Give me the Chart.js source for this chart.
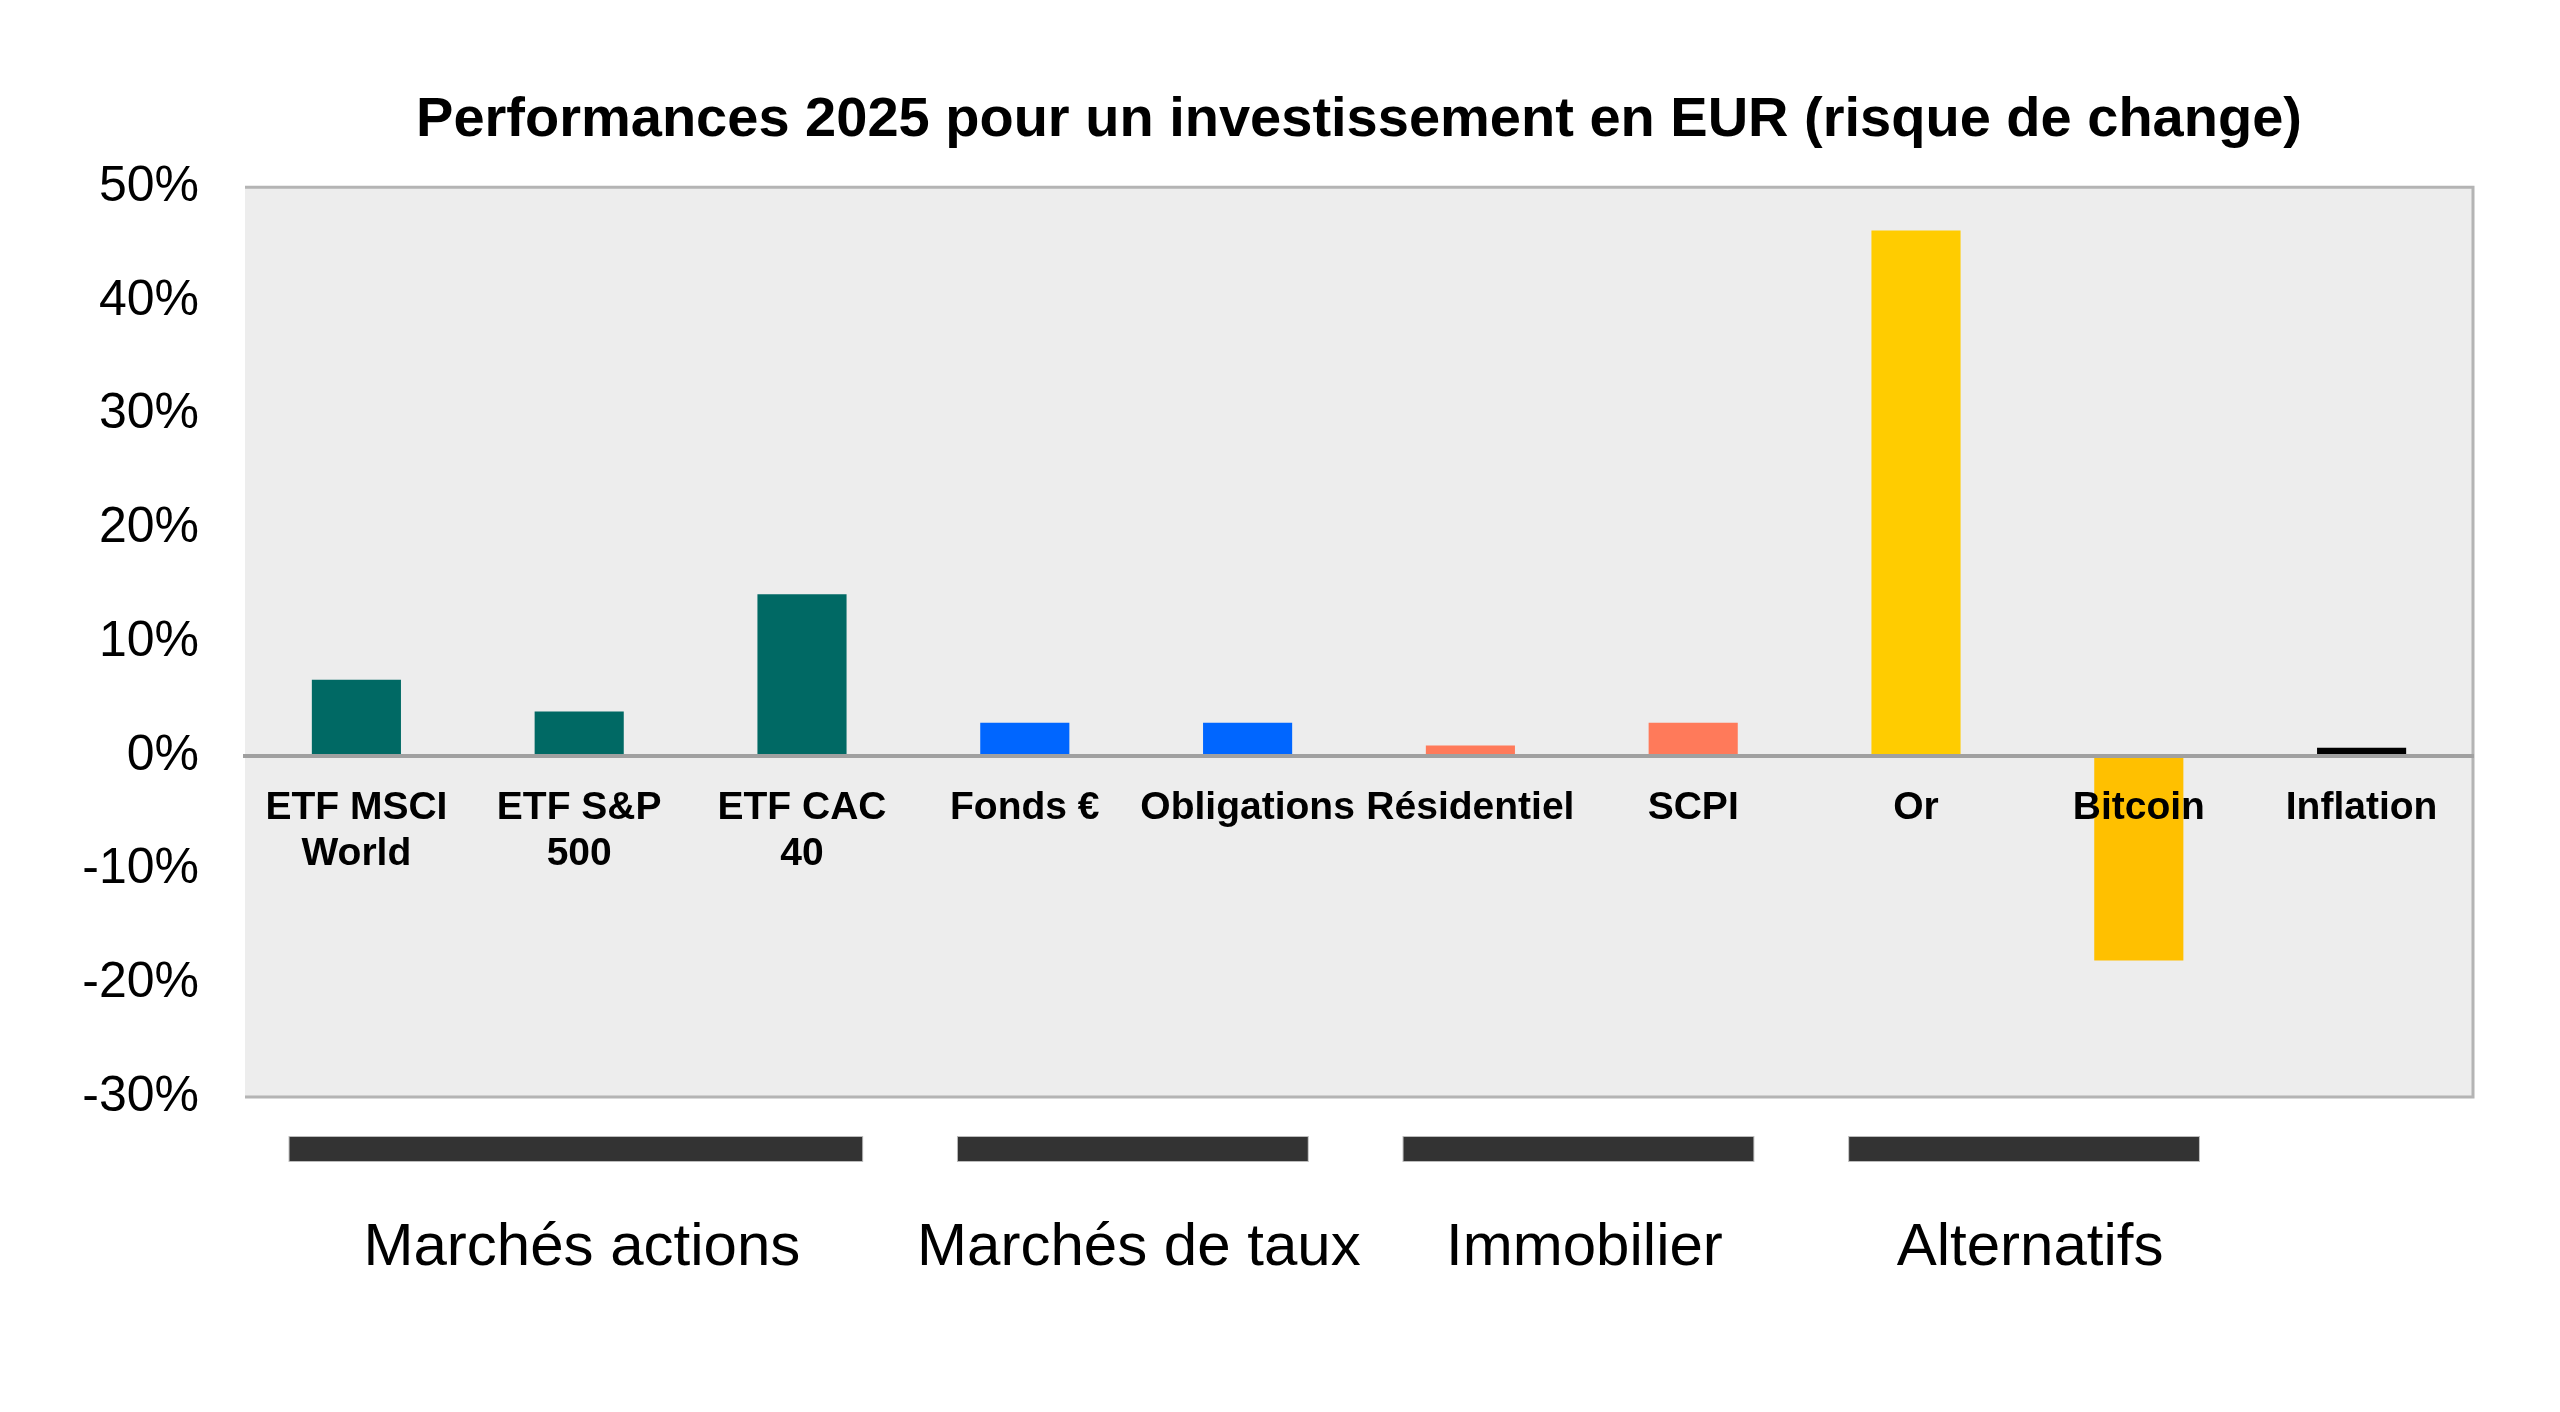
<!DOCTYPE html>
<html>
<head>
<meta charset="utf-8">
<script src="https://cdn.jsdelivr.net/npm/chart.js@4.4.1/dist/chart.umd.min.js"></script>
<style>
  html, body { margin: 0; padding: 0; background: #ffffff; }
  #wrap { width: 2560px; height: 1412px; position: relative; }
</style>
</head>
<body>
<div id="wrap"><canvas id="perfChart"></canvas></div>
<script>
// categories and values (%)
const categories = [
  ['ETF MSCI', 'World'], ['ETF S&P', '500'], ['ETF CAC', '40'],
  'Fonds €', 'Obligations', 'Résidentiel', 'SCPI', 'Or', 'Bitcoin', 'Inflation'
];
const performances = [6.7, 3.9, 14.2, 2.9, 2.9, 0.9, 2.9, 46.2, -18.0, 0.7];
const barColors = ['#006964', '#006964', '#006964', '#0066ff', '#0066ff',
  '#ff7a5a', '#ff7a5a', '#ffcc00', '#ffc000', '#000000'];

// asset class groups shown under the chart (first and last category index)
const groupNames = ['Marchés actions', 'Marchés de taux', 'Immobilier', 'Alternatifs'];
const groupFirst = [0, 3, 5, 7];
const groupLast = [2, 4, 6, 8];

const yMin = -30, yMax = 50, yStep = 10;

const FONT = "'Liberation Sans', Arial, sans-serif";

// grey plot background with a light frame
const plotBackground = {
  id: 'plotBackground',
  beforeDraw(chart) {
    const {ctx, chartArea: a} = chart;
    ctx.save();
    ctx.fillStyle = '#ededed';
    ctx.fillRect(a.left, a.top, a.right - a.left, a.bottom - a.top);
    ctx.strokeStyle = '#b4b4b4';
    ctx.lineWidth = 3;
    ctx.beginPath();
    ctx.moveTo(a.left, a.top);
    ctx.lineTo(a.right, a.top);
    ctx.lineTo(a.right, a.bottom);
    ctx.lineTo(a.left, a.bottom);
    ctx.stroke();
    ctx.restore();
  }
};

// dark bars + labels grouping the categories
const groupBrackets = {
  id: 'groupBrackets',
  afterDraw(chart) {
    const {ctx} = chart;
    const x = chart.scales.x;
    const step = x.getPixelForValue(1) - x.getPixelForValue(0);
    const top = 1137, h = 24;
    ctx.save();
    groupNames.forEach((name, i) => {
      const left = x.getPixelForValue(groupFirst[i]) - step * 0.30;
      const right = x.getPixelForValue(groupLast[i]) + step * 0.27;
      ctx.fillStyle = '#bcbcbc';
      ctx.fillRect(left - 1, top - 1, right - left + 2, h + 2);
      ctx.fillStyle = '#333333';
      ctx.fillRect(left, top, right - left, h);
      ctx.fillStyle = '#000000';
      ctx.font = '60px ' + FONT;
      ctx.textAlign = 'center';
      ctx.textBaseline = 'alphabetic';
      ctx.fillText(name, (left + right) / 2 + 6, 1265);
    });
    ctx.restore();
  }
};

new Chart(document.getElementById('perfChart'), {
  type: 'bar',
  data: {
    labels: categories,
    datasets: [{
      data: performances,
      backgroundColor: barColors,
      borderWidth: 0,
      barPercentage: 0.8,
      categoryPercentage: 0.5
    }]
  },
  options: {
    responsive: true,
    maintainAspectRatio: false,
    animation: false,
    devicePixelRatio: 1,
    layout: { padding: { left: 0, right: 87, top: 0, bottom: 315 } },
    plugins: {
      legend: { display: false },
      tooltip: { enabled: false },
      title: {
        display: true,
        fullSize: false,
        text: 'Performances 2025 pour un investissement en EUR (risque de change)',
        color: '#000000',
        font: { family: FONT, size: 56, weight: 'bold', lineHeight: 1.2 },
        padding: { top: 87, bottom: 33 }
      }
    },
    scales: {
      x: {
        position: { y: 0 },
        grid: { display: false, drawTicks: false },
        border: { display: true, color: '#a0a0a0', width: 4, z: 1 },
        ticks: {
          z: 2,
          autoSkip: false,
          maxRotation: 0,
          padding: 29,
          color: '#000000',
          font: { family: FONT, size: 39, weight: 'bold', lineHeight: 1.18 }
        }
      },
      y: {
        min: yMin,
        max: yMax,
        afterFit(scale) { scale.width = 245; },
        grid: { display: false, drawTicks: false },
        border: { display: false },
        ticks: {
          stepSize: yStep,
          padding: 46,
          color: '#000000',
          font: { family: FONT, size: 50 },
          callback: v => v + '%'
        }
      }
    }
  },
  plugins: [plotBackground, groupBrackets]
});
</script>
</body>
</html>
